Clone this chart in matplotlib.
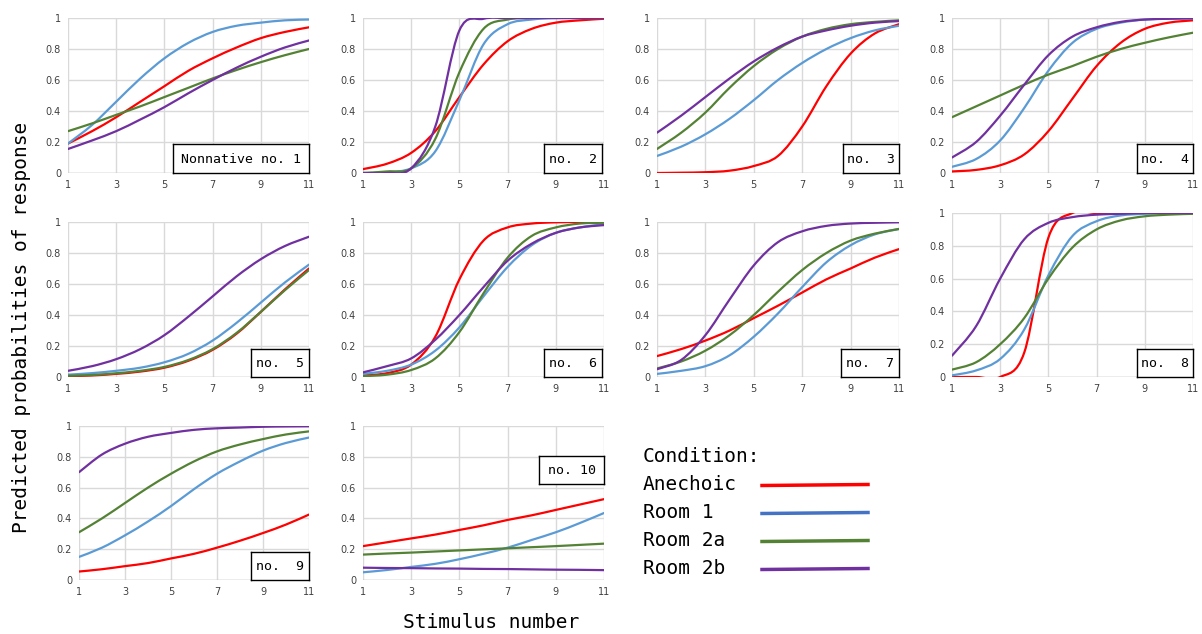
import matplotlib
matplotlib.use("Agg")
import matplotlib.pyplot as plt
from matplotlib.path import Path
from matplotlib.patches import PathPatch
import numpy as np

stimulus = [1, 2, 3, 4, 5, 6, 7, 8, 9, 10, 11]
conditions = ["Anechoic", "Room 1", "Room 2a", "Room 2b"]
panel_labels = ["Nonnative no. 1", "no.  2", "no.  3", "no.  4", "no.  5",
                "no.  6", "no.  7", "no.  8", "no.  9", "no. 10"]

anechoic = [
    [0.19, 0.27, 0.36, 0.46, 0.56, 0.66, 0.74, 0.81, 0.87, 0.91, 0.94],
    [0.025, 0.06, 0.13, 0.27, 0.49, 0.70, 0.85, 0.93, 0.97, 0.985, 0.995],
    [0.0, 0.002, 0.005, 0.015, 0.045, 0.11, 0.30, 0.56, 0.77, 0.90, 0.96],
    [0.01, 0.02, 0.05, 0.12, 0.27, 0.48, 0.69, 0.84, 0.93, 0.97, 0.985],
    [0.005, 0.01, 0.02, 0.035, 0.06, 0.105, 0.175, 0.28, 0.42, 0.565, 0.70],
    [0.01, 0.025, 0.08, 0.26, 0.63, 0.88, 0.965, 0.99, 0.998, 1.0, 1.0],
    [0.135, 0.18, 0.235, 0.30, 0.38, 0.46, 0.545, 0.63, 0.70, 0.77, 0.825],
    [0.0, 0.0, 0.0, 0.15, 0.85, 1.0, 1.0, 1.0, 1.0, 1.0, 1.0],
    [0.055, 0.07, 0.09, 0.11, 0.14, 0.17, 0.21, 0.255, 0.305, 0.36, 0.425],
    [0.22, 0.245, 0.27, 0.295, 0.325, 0.355, 0.39, 0.42, 0.455, 0.49, 0.525],
]
room1 = [
    [0.19, 0.31, 0.46, 0.61, 0.74, 0.84, 0.91, 0.95, 0.97, 0.985, 0.99],
    [0.0, 0.005, 0.03, 0.14, 0.47, 0.83, 0.96, 0.99, 1.0, 1.0, 1.0],
    [0.11, 0.17, 0.25, 0.35, 0.47, 0.60, 0.71, 0.80, 0.87, 0.92, 0.95],
    [0.04, 0.09, 0.21, 0.42, 0.66, 0.84, 0.93, 0.97, 0.99, 0.995, 0.998],
    [0.015, 0.025, 0.04, 0.06, 0.095, 0.15, 0.235, 0.35, 0.48, 0.61, 0.725],
    [0.02, 0.04, 0.08, 0.17, 0.32, 0.52, 0.71, 0.85, 0.93, 0.965, 0.985],
    [0.02, 0.04, 0.07, 0.14, 0.26, 0.41, 0.58, 0.74, 0.85, 0.92, 0.955],
    [0.01, 0.04, 0.11, 0.29, 0.62, 0.86, 0.95, 0.985, 0.995, 1.0, 1.0],
    [0.15, 0.21, 0.29, 0.38, 0.48, 0.59, 0.69, 0.77, 0.84, 0.89, 0.925],
    [0.05, 0.065, 0.085, 0.105, 0.135, 0.17, 0.21, 0.26, 0.31, 0.37, 0.435],
]
room2a = [
    [0.27, 0.32, 0.375, 0.43, 0.49, 0.55, 0.61, 0.665, 0.715, 0.76, 0.80],
    [0.0, 0.01, 0.03, 0.22, 0.65, 0.93, 0.99, 1.0, 1.0, 1.0, 1.0],
    [0.155, 0.26, 0.39, 0.55, 0.69, 0.80, 0.88, 0.93, 0.96, 0.975, 0.985],
    [0.36, 0.43, 0.50, 0.57, 0.635, 0.69, 0.75, 0.80, 0.84, 0.875, 0.905],
    [0.008, 0.013, 0.024, 0.04, 0.065, 0.11, 0.18, 0.285, 0.42, 0.56, 0.69],
    [0.005, 0.015, 0.045, 0.12, 0.29, 0.54, 0.77, 0.91, 0.965, 0.99, 0.995],
    [0.055, 0.10, 0.17, 0.27, 0.40, 0.55, 0.69, 0.80, 0.88, 0.925, 0.955],
    [0.045, 0.09, 0.20, 0.36, 0.60, 0.79, 0.90, 0.955, 0.98, 0.99, 0.995],
    [0.31, 0.40, 0.50, 0.60, 0.69, 0.77, 0.835, 0.88, 0.915, 0.945, 0.965],
    [0.165, 0.172, 0.178, 0.185, 0.192, 0.199, 0.206, 0.213, 0.22, 0.228, 0.236],
]
room2b = [
    [0.155, 0.21, 0.27, 0.345, 0.425, 0.515, 0.60, 0.68, 0.75, 0.81, 0.855],
    [0.0, 0.0, 0.03, 0.30, 0.92, 0.995, 1.0, 1.0, 1.0, 1.0, 1.0],
    [0.26, 0.37, 0.49, 0.61, 0.72, 0.81, 0.88, 0.92, 0.95, 0.97, 0.98],
    [0.10, 0.20, 0.37, 0.57, 0.76, 0.88, 0.94, 0.975, 0.99, 0.995, 0.998],
    [0.04, 0.07, 0.115, 0.18, 0.27, 0.39, 0.52, 0.65, 0.76, 0.845, 0.905],
    [0.03, 0.07, 0.12, 0.24, 0.40, 0.58, 0.75, 0.86, 0.93, 0.965, 0.98],
    [0.05, 0.11, 0.27, 0.50, 0.72, 0.87, 0.94, 0.975, 0.99, 0.995, 0.998],
    [0.13, 0.31, 0.60, 0.84, 0.94, 0.975, 0.99, 0.995, 1.0, 1.0, 1.0],
    [0.70, 0.815, 0.885, 0.93, 0.955, 0.975, 0.985, 0.99, 0.995, 0.997, 0.998],
    [0.08, 0.078, 0.077, 0.075, 0.074, 0.072, 0.071, 0.069, 0.067, 0.066, 0.064],
]
series = [anechoic, room1, room2a, room2b]
line_colors = ["#FF0000", "#5B9BD5", "#548235", "#7030A0"]
legend_colors = ["#FF0000", "#4472C4", "#548235", "#7030A0"]

W, H = 1202, 634
# axes boxes in pixels: (left, top, right, bottom)
boxes = [
    (68, 18, 309, 173), (363, 18, 604, 173), (657, 18, 899, 173), (952, 18, 1193, 173),
    (68, 222, 309, 377), (363, 222, 604, 377), (657, 222, 899, 377), (952, 213, 1193, 377),
    (79, 426, 309, 580), (363, 426, 604, 580),
]
# label boxes in pixels (left, top, right, bottom)
label_boxes = [
    (173, 144, 309, 173), (544, 144, 602, 173), (843, 144, 899, 173), (1137, 144, 1193, 173),
    (251, 349, 309, 377), (544, 349, 602, 377), (841, 349, 899, 377), (1137, 349, 1193, 377),
    (251, 552, 309, 580), (539, 456, 604, 484),
]

MONO = ["DejaVu Sans Mono"]


def smooth_path(xs, ys):
    xs = np.asarray(xs, float)
    ys = np.asarray(ys, float)
    n = len(xs)
    verts = [(xs[0], ys[0])]
    codes = [Path.MOVETO]
    for i in range(n - 1):
        p0 = np.array([xs[max(i - 1, 0)], ys[max(i - 1, 0)]])
        p1 = np.array([xs[i], ys[i]])
        p2 = np.array([xs[i + 1], ys[i + 1]])
        p3 = np.array([xs[min(i + 2, n - 1)], ys[min(i + 2, n - 1)]])
        c1 = p1 + (p2 - p0) / 6.0
        c2 = p2 - (p3 - p1) / 6.0
        verts += [tuple(c1), tuple(c2), tuple(p2)]
        codes += [Path.CURVE4] * 3
    return Path(verts, codes)


fig = plt.figure(figsize=(W / 100, H / 100), dpi=100)

for k, (l, t, r, b) in enumerate(boxes):
    ax = fig.add_axes([l / W, 1 - b / H, (r - l) / W, (b - t) / H])
    ax.set_xlim(1, 11)
    ax.set_ylim(0, 1)
    ax.set_xticks([1, 3, 5, 7, 9, 11])
    ax.set_yticks([0, 0.2, 0.4, 0.6, 0.8, 1.0])
    ax.set_yticklabels(["0", "0.2", "0.4", "0.6", "0.8", "1"])
    ax.tick_params(length=0, labelsize=7, pad=5, labelcolor="#404040")
    ax.grid(True, color="#d9d9d9", lw=1.0)
    ax.set_axisbelow(True)
    for sp in ax.spines.values():
        sp.set_visible(False)
    ax.axhline(0, color="#bfbfbf", lw=1.0, zorder=1)
    for s, c in zip(series, line_colors):
        patch = PathPatch(smooth_path(stimulus, s[k]), fill=False, edgecolor=c,
                          lw=1.6, capstyle="round", joinstyle="round", zorder=3)
        ax.add_patch(patch)
    lb = label_boxes[k]
    bx = fig.add_axes([lb[0] / W, 1 - lb[3] / H, (lb[2] - lb[0]) / W, (lb[3] - lb[1]) / H])
    bx.set_xticks([])
    bx.set_yticks([])
    bx.set_facecolor("white")
    for sp in bx.spines.values():
        sp.set_color("black")
        sp.set_linewidth(1.0)
    bx.text(0.5, 0.48, panel_labels[k], ha="center", va="center",
            fontsize=9.5, family=MONO, transform=bx.transAxes)

# axis titles
fig.text(22 / W, 1 - 327 / H, "Predicted probabilities of response", rotation=90,
         ha="center", va="center", fontsize=14, family=MONO)
fig.text(491 / W, 1 - 622 / H, "Stimulus number", ha="center", va="center",
         fontsize=14, family=MONO)

# legend
fig.text(643 / W, 1 - 457 / H, "Condition:", ha="left", va="center",
         fontsize=14, family=MONO)
leg_y = [485, 513, 541, 569]
for name, c, yy in zip(conditions, legend_colors, leg_y):
    fig.text(643 / W, 1 - yy / H, name, ha="left", va="center", fontsize=14, family=MONO)
    fig.add_artist(plt.Line2D([762 / W, 868 / W], [1 - (yy + 0.5) / H, 1 - (yy - 0.5) / H],
                              color=c, lw=2.5, transform=fig.transFigure))

fig.savefig("out.png", dpi=100)
